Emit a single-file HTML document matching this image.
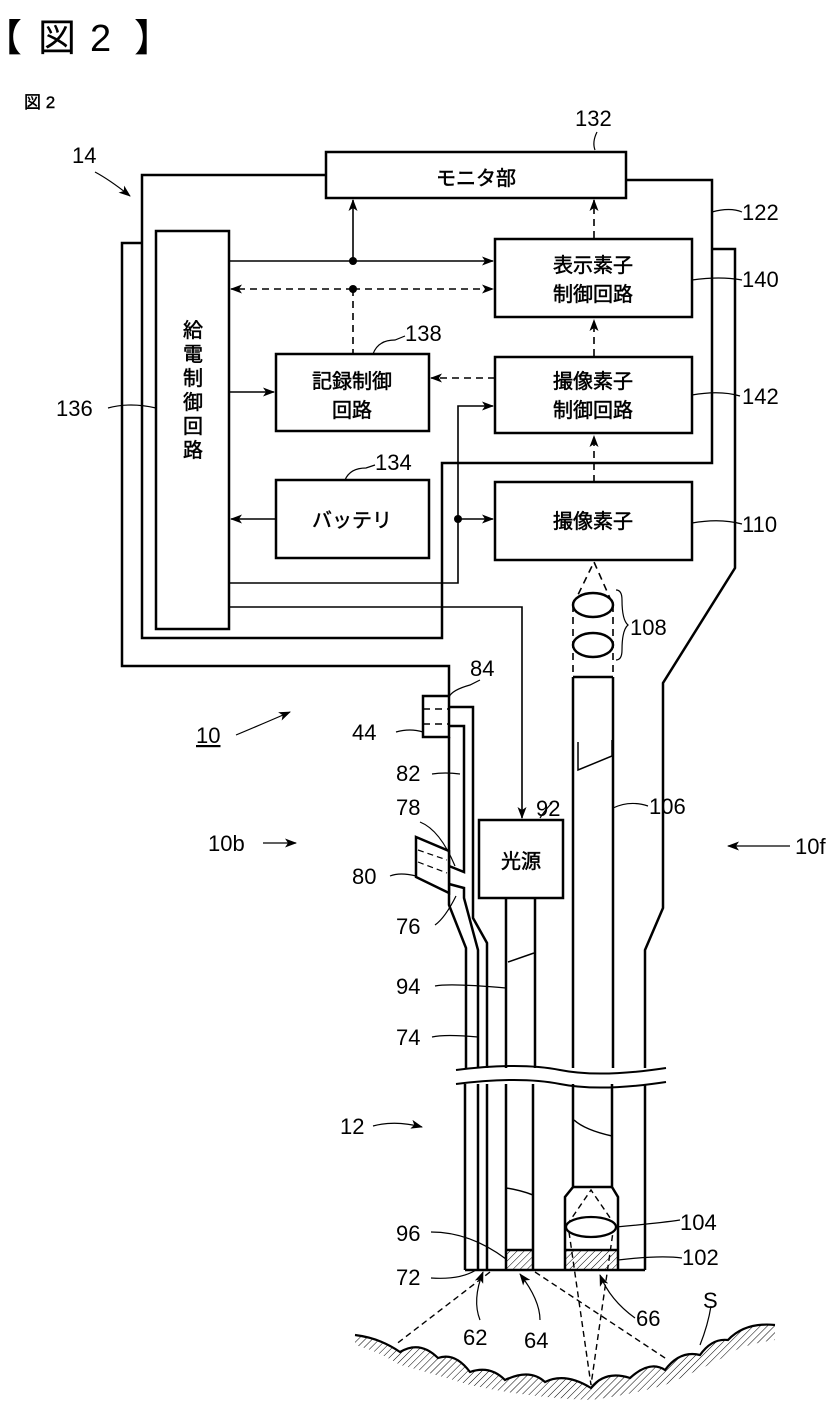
<!DOCTYPE html>
<html><head><meta charset="utf-8"><style>
html,body{margin:0;padding:0;background:#fff;}
svg{display:block;}
text{font-family:"Liberation Sans","Noto Sans CJK JP",sans-serif;fill:#000;}
.n{font-size:22px;}
.j{font-size:20px;font-family:"Liberation Sans","Noto Sans CJK JP",sans-serif;stroke:#000;stroke-width:0.5px;}
</style></head><body>
<svg width="837" height="1409" viewBox="0 0 837 1409" xmlns="http://www.w3.org/2000/svg">
<defs>
<marker id="a" markerWidth="12" markerHeight="9" refX="11" refY="4.5" orient="auto" markerUnits="userSpaceOnUse"><path d="M0,0 L12,4.5 L0,9 L3,4.5 z" fill="#000"/></marker>
<pattern id="h" width="5" height="5" patternUnits="userSpaceOnUse" patternTransform="rotate(45)"><line x1="0" y1="0" x2="0" y2="5" stroke="#000" stroke-width="1"/></pattern>
</defs>
<text x="-16" y="51" style="font-size:38px">【</text>
<text x="38" y="51" style="font-size:38px">図</text>
<text x="90" y="51" style="font-size:38px">2</text>
<text x="134" y="51" style="font-size:38px">】</text>
<text x="24" y="108" style="font-size:17px;stroke:#000;stroke-width:0.4px">図 2</text>

<g fill="none" stroke="#000" stroke-width="2.5">
<polyline points="326,175 142,175 142,638 442,638 442,463 712,463 712,180 626,180"/>
<polyline points="142,243 122,243 122,666 449,666 449,696"/>
<polyline points="712,249 735,249 735,568 663,683 663,908 645,950 645,1068"/>
<polyline points="449,737 449,905 466,948 466,1068"/>
<rect x="326" y="152" width="300" height="46"/>
<rect x="156" y="231" width="73" height="398"/>
<rect x="495" y="239" width="197" height="78"/>
<rect x="495" y="357" width="197" height="76"/>
<rect x="495" y="482" width="197" height="78"/>
<rect x="276" y="354" width="153" height="77"/>
<rect x="276" y="480" width="153" height="78"/>
<rect x="479" y="820" width="84" height="78"/>
<rect x="423" y="696" width="26" height="41"/>
</g>
<g fill="none" stroke="#000" stroke-width="1.6">
<line x1="229" y1="261" x2="493" y2="261" marker-end="url(#a)"/>
<line x1="353" y1="261" x2="353" y2="200" marker-end="url(#a)"/>
<line x1="229" y1="392" x2="274" y2="392" marker-end="url(#a)"/>
<line x1="276" y1="519" x2="231" y2="519" marker-end="url(#a)"/>
<polyline points="229,583 458,583 458,406 493,406" marker-end="url(#a)"/>
<line x1="458" y1="519" x2="493" y2="519" marker-end="url(#a)"/>
<polyline points="229,607 522,607 522,818" marker-end="url(#a)"/>
</g>
<g fill="none" stroke="#000" stroke-width="1.6" stroke-dasharray="7,5">
<line x1="353" y1="289" x2="493" y2="289" marker-end="url(#a)"/>
<line x1="353" y1="289" x2="231" y2="289" marker-end="url(#a)"/>
<line x1="353" y1="289" x2="353" y2="354"/>
<line x1="594" y1="238" x2="594" y2="200" marker-end="url(#a)"/>
<line x1="594" y1="356" x2="594" y2="320" marker-end="url(#a)"/>
<line x1="594" y1="482" x2="594" y2="436" marker-end="url(#a)"/>
<line x1="495" y1="378" x2="431" y2="378" marker-end="url(#a)"/>
<polyline points="573,605 594,562 613,605"/>
<line x1="573" y1="605" x2="573" y2="677"/>
<line x1="613" y1="605" x2="613" y2="677"/>
<line x1="423" y1="709" x2="449" y2="709"/>
<line x1="423" y1="724" x2="449" y2="724"/>
</g>
<circle cx="353" cy="261" r="4"/>
<circle cx="353" cy="289" r="4"/>
<circle cx="458" cy="519" r="4"/>
<g fill="#fff" stroke="#000" stroke-width="2.5">
<ellipse cx="593" cy="605" rx="20" ry="12"/>
<ellipse cx="593" cy="645" rx="20" ry="12"/>
</g>
<g fill="none" stroke="#000" stroke-width="2.5">
<line x1="573" y1="677" x2="613" y2="677"/>
<line x1="573" y1="677" x2="573" y2="1068"/>
<line x1="613" y1="677" x2="613" y2="1068"/>
<polyline points="449,707 473,707 473,918 487,943 487,1068"/>
<polyline points="449,726 464,726 464,872 449,866"/>
<polyline points="449,884 464,888 464,898 478,950 478,1068"/>
<polygon points="416,837 449,851 449,893 416,877" fill="#fff"/>
<line x1="506" y1="898" x2="506" y2="1068"/>
<line x1="535" y1="898" x2="535" y2="1068"/>
</g>
<g fill="none" stroke="#000" stroke-width="1.2" stroke-dasharray="6,4">
<line x1="418" y1="850" x2="447" y2="860"/>
<line x1="418" y1="862" x2="447" y2="873"/>
</g>
<g fill="none" stroke="#000" stroke-width="1.5">
<polyline points="578,742 578,770 612,756 612,740"/>
<polyline points="508,962 534,953"/>
</g>
<rect x="455" y="1070" width="212" height="14" fill="#fff"/>
<path d="M456,1070 Q520,1062 560,1070 T666,1068" fill="none" stroke="#000" stroke-width="2"/>
<path d="M456,1084 Q520,1076 560,1084 T666,1082" fill="none" stroke="#000" stroke-width="2"/>
<g fill="none" stroke="#000" stroke-width="2.5">
<line x1="465" y1="1084" x2="465" y2="1270"/>
<line x1="478" y1="1084" x2="478" y2="1270"/>
<line x1="487" y1="1084" x2="487" y2="1270"/>
<line x1="506" y1="1084" x2="506" y2="1270"/>
<line x1="533" y1="1084" x2="533" y2="1270"/>
<line x1="645" y1="1084" x2="645" y2="1270"/>
<line x1="465" y1="1270" x2="645" y2="1270"/>
<polyline points="573,1084 573,1187 565,1197 565,1270"/>
<polyline points="612,1084 612,1187 618,1197 618,1270"/>
<line x1="573" y1="1187" x2="612" y2="1187"/>
<line x1="565" y1="1250" x2="618" y2="1250"/>
<line x1="506" y1="1250" x2="533" y2="1250"/>
</g>
<g fill="none" stroke="#000" stroke-width="1.5">
<path d="M506,1188 Q520,1190 533,1195"/>
<path d="M574,1120 Q585,1130 612,1136"/>
</g>
<rect x="507" y="1251" width="25" height="18" fill="url(#h)"/>
<rect x="566" y="1251" width="51" height="18" fill="url(#h)"/>
<ellipse cx="591" cy="1227" rx="25" ry="10" fill="#fff" stroke="#000" stroke-width="2.2"/>
<g fill="none" stroke="#000" stroke-width="1.4" stroke-dasharray="6,4">
<polyline points="567,1225 591,1190 615,1225"/>
<polyline points="569,1232 591,1385 613,1232"/>
<line x1="490" y1="1272" x2="395" y2="1345"/>
<line x1="535" y1="1272" x2="668" y2="1360"/>
</g>
<path d="M355,1335 Q380,1338 400,1352 Q420,1340 438,1358 Q455,1352 470,1372 Q490,1365 505,1380 Q530,1368 545,1382 Q565,1372 591,1388 Q605,1370 630,1378 Q650,1360 665,1370 Q680,1350 700,1355 Q712,1338 728,1340 Q745,1322 775,1325" fill="none" stroke="#000" stroke-width="2.2"/>
<path d="M355,1335 Q380,1338 400,1352 Q420,1340 438,1358 Q455,1352 470,1372 Q490,1365 505,1380 Q530,1368 545,1382 Q565,1372 591,1388 Q605,1370 630,1378 Q650,1360 665,1370 Q680,1350 700,1355 Q712,1338 728,1340 Q745,1322 775,1325 L775,1340 Q740,1345 728,1355 Q700,1370 665,1385 Q630,1395 591,1400 Q530,1398 470,1385 Q420,1370 400,1365 Q380,1352 355,1345 z" fill="url(#h)" stroke="none"/>
<g fill="none" stroke="#000" stroke-width="1.2">
<path d="M595,150 Q592,142 597,132"/>
<path d="M373,354 Q378,340 395,340 L405,336"/>
<path d="M345,480 Q350,468 366,468 L375,465"/>
<path d="M108,408 Q130,402 156,408"/>
<path d="M692,395 Q720,390 740,396"/>
<path d="M692,280 Q720,276 742,280"/>
<path d="M712,212 Q730,207 742,212"/>
<path d="M692,523 Q720,518 742,524"/>
<path d="M616,590 q6,0 6,10 q0,20 6,25 q-6,5 -6,25 q0,10 -6,10"/>
<path d="M396,732 Q410,728 423,732"/>
<path d="M449,697 Q452,690 470,685 L480,680"/>
<path d="M432,774 Q445,772 460,774"/>
<path d="M420,822 Q440,830 455,866"/>
<path d="M390,876 Q400,872 416,876"/>
<path d="M435,925 Q445,918 456,896"/>
<path d="M435,986 Q450,983 506,988"/>
<path d="M432,1037 Q445,1034 478,1037"/>
<path d="M540,818 Q545,810 552,803"/>
<path d="M613,808 Q630,800 648,806"/>
<path d="M431,1232 Q470,1232 506,1259"/>
<path d="M431,1278 Q460,1280 476,1270"/>
<path d="M480,1320 Q472,1300 483,1272" marker-end="url(#a)"/>
<path d="M540,1320 Q540,1300 520,1274" marker-end="url(#a)"/>
<path d="M635,1318 Q610,1300 600,1275" marker-end="url(#a)"/>
<path d="M616,1227 Q660,1223 680,1220"/>
<path d="M618,1260 Q660,1255 682,1258"/>
<path d="M711,1306 Q708,1325 700,1345"/>
<path d="M95,172 Q110,180 130,196" marker-end="url(#a)"/>
<path d="M373,1126 Q395,1120 422,1127" marker-end="url(#a)"/>
<line x1="263" y1="843" x2="296" y2="843" marker-end="url(#a)"/>
<line x1="790" y1="846" x2="728" y2="846" marker-end="url(#a)"/>
<path d="M236,735 Q260,725 290,712" marker-end="url(#a)"/>
</g>
<text x="476" y="185" class="j" text-anchor="middle">モニタ部</text>
<text x="593" y="272" class="j" text-anchor="middle">表示素子</text>
<text x="593" y="301" class="j" text-anchor="middle">制御回路</text>
<text x="593" y="388" class="j" text-anchor="middle">撮像素子</text>
<text x="593" y="417" class="j" text-anchor="middle">制御回路</text>
<text x="593" y="528" class="j" text-anchor="middle">撮像素子</text>
<text x="352" y="388" class="j" text-anchor="middle">記録制御</text>
<text x="352" y="417" class="j" text-anchor="middle">回路</text>
<text x="352" y="527" class="j" text-anchor="middle">バッテリ</text>
<text x="521" y="868" class="j" text-anchor="middle">光源</text>
<text x="193" y="337" class="j" text-anchor="middle">給</text>
<text x="193" y="361" class="j" text-anchor="middle">電</text>
<text x="193" y="385" class="j" text-anchor="middle">制</text>
<text x="193" y="409" class="j" text-anchor="middle">御</text>
<text x="193" y="433" class="j" text-anchor="middle">回</text>
<text x="193" y="457" class="j" text-anchor="middle">路</text>
<g>
<text x="575" y="126" class="n">132</text>
<text x="72" y="163" class="n">14</text>
<text x="742" y="220" class="n">122</text>
<text x="405" y="341" class="n">138</text>
<text x="742" y="287" class="n">140</text>
<text x="56" y="416" class="n">136</text>
<text x="742" y="404" class="n">142</text>
<text x="375" y="470" class="n">134</text>
<text x="742" y="532" class="n">110</text>
<text x="630" y="635" class="n">108</text>
<text x="470" y="676" class="n">84</text>
<text x="352" y="740" class="n">44</text>
<text x="196" y="743" class="n" style="text-decoration:underline">10</text>
<text x="396" y="781" class="n">82</text>
<text x="536" y="816" class="n">92</text>
<text x="649" y="814" class="n">106</text>
<text x="396" y="815" class="n">78</text>
<text x="208" y="851" class="n">10b</text>
<text x="795" y="854" class="n">10f</text>
<text x="352" y="884" class="n">80</text>
<text x="396" y="934" class="n">76</text>
<text x="396" y="994" class="n">94</text>
<text x="396" y="1045" class="n">74</text>
<text x="340" y="1134" class="n">12</text>
<text x="396" y="1241" class="n">96</text>
<text x="680" y="1230" class="n">104</text>
<text x="396" y="1285" class="n">72</text>
<text x="682" y="1265" class="n">102</text>
<text x="703" y="1308" class="n">S</text>
<text x="463" y="1345" class="n">62</text>
<text x="524" y="1348" class="n">64</text>
<text x="636" y="1326" class="n">66</text>
</g>
</svg>
</body></html>
